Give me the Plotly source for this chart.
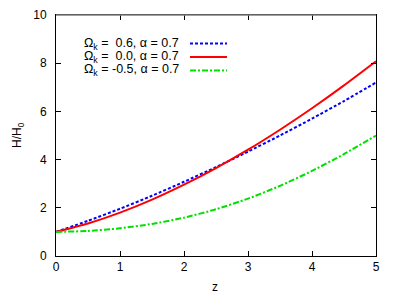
import plotly.graph_objects as go

z = [0, 0.5, 1, 1.5, 2, 2.5, 3, 3.5, 4, 4.5, 5]
h_blue = [1, 1.46, 1.96, 2.5, 3.08, 3.69, 4.33, 5.0, 5.7, 6.43, 7.2]
h_red = [1, 1.35, 1.8, 2.34, 2.96, 3.65, 4.41, 5.24, 6.13, 7.08, 8.08]
h_green = [1, 1.04, 1.15, 1.33, 1.59, 1.94, 2.38, 2.91, 3.53, 4.23, 5.0]

labels = ["Ω<sub>k</sub> =\u00a0\u00a00.6, α = 0.7",
          "Ω<sub>k</sub> =\u00a0\u00a00.0, α = 0.7",
          "Ω<sub>k</sub> = -0.5, α = 0.7"]
colors = ["#0000ff", "#ff0000", "#00e000"]
dashes = ["3px,2px", "solid", "6px,2px,2px,2px"]
series = [h_blue, h_red, h_green]

# desired plot area in page pixels; page body has an 8px margin
OFF = 8
L, R, T, B = 56, 376, 15, 256
W, Hh = 399 - OFF, 297 - OFF

fig = go.Figure()
for ys, c, d in zip(series, colors, dashes):
    fig.add_trace(go.Scatter(x=z, y=ys, mode="lines",
                             line=dict(color=c, width=2, dash=d, shape="spline", smoothing=0.6),
                             showlegend=False))

font = dict(family="Liberation Sans, Arial, sans-serif", size=12, color="black")
lfont = dict(family="Liberation Sans, Arial, sans-serif", size=12.5, color="black")

def px(xp):
    return (xp - L) / (R - L)

def py(yp):
    return (B - yp) / (B - T)

# legend (gnuplot style: text right-aligned, sample on the right)
row_y = [43.5, 57, 70.5]
for lab, c, d, ry in zip(labels, colors, dashes, row_y):
    fig.add_annotation(x=px(181), y=py(ry), xref="paper", yref="paper",
                       text=lab, showarrow=False, xanchor="right", yanchor="middle",
                       font=lfont)
    fig.add_shape(type="line", xref="paper", yref="paper",
                  x0=px(190), x1=px(227), y0=py(ry), y1=py(ry),
                  line=dict(color=c, width=2, dash=d))

# axis titles
fig.add_annotation(x=px(215), y=py(287), xref="paper", yref="paper", text="z",
                   showarrow=False, xanchor="center", yanchor="middle", font=font)
fig.add_annotation(x=px(18), y=py(135), xref="paper", yref="paper", text="H/H<sub>0</sub>",
                   showarrow=False, xanchor="center", yanchor="middle", textangle=-90, font=font)

# gray top border
fig.add_shape(type="line", xref="paper", yref="paper", x0=0, x1=1, y0=1, y1=1,
              line=dict(color="#808080", width=1.5), layer="above")

fig.update_layout(
    width=W, height=Hh,
    margin=dict(l=L - OFF, r=399 - R, t=T - OFF, b=297 - B, autoexpand=False),
    paper_bgcolor="white", plot_bgcolor="white",
    font=font,
    showlegend=False,
)
fig.update_xaxes(range=[0, 5], tickvals=[0, 1, 2, 3, 4, 5], ticks="inside", ticklen=5,
                 tickcolor="black", showline=True, linecolor="black", linewidth=1,
                 mirror="ticks", showgrid=False, zeroline=False, automargin=False)
fig.update_yaxes(range=[0, 10], tickvals=[0, 2, 4, 6, 8, 10], ticks="inside", ticklen=5,
                 tickcolor="black", showline=True, linecolor="black", linewidth=1,
                 mirror="ticks", showgrid=False, zeroline=False, ticklabelstandoff=6,
                 automargin=False)

fig.write_html("out.html")
